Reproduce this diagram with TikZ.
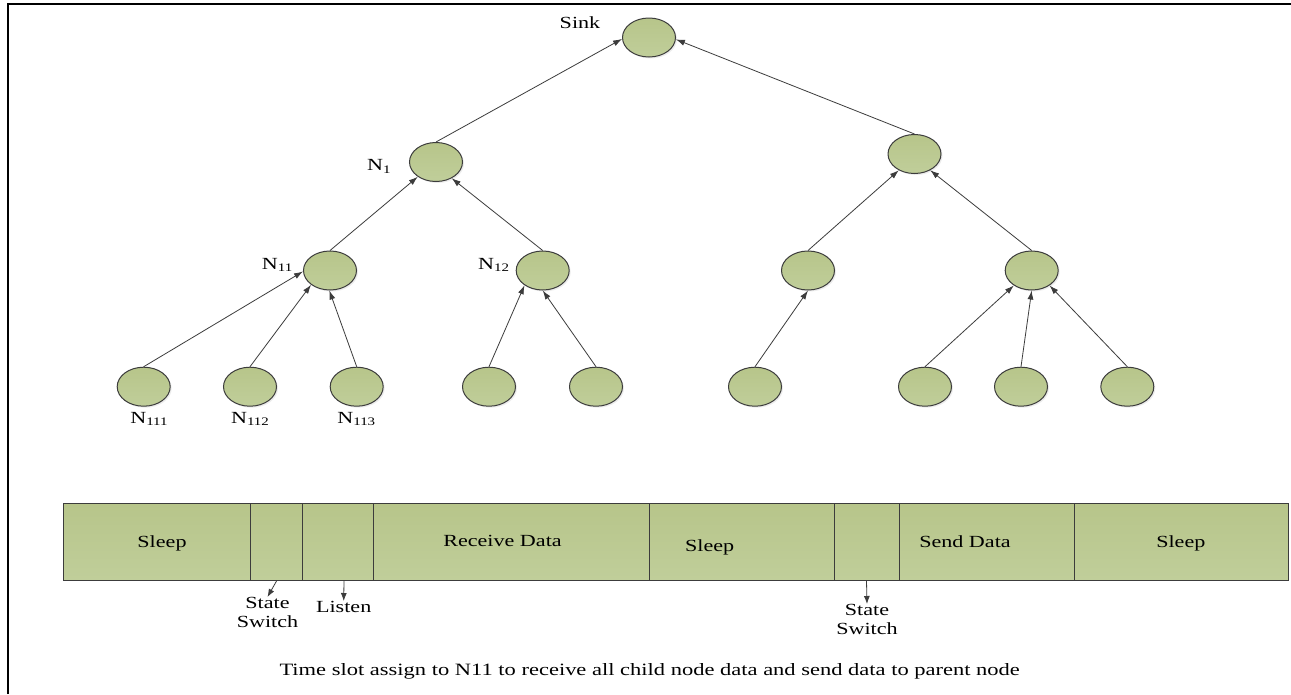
\documentclass[tikz,border=0pt]{standalone}
\usepackage{fontspec}
\setmainfont{Liberation Serif}[FakeStretch=1.3]
\usetikzlibrary{shapes.geometric,arrows.meta,shadows}
\definecolor{ngreen}{RGB}{183,197,138}
\definecolor{ngreenb}{RGB}{192,206,154}
\definecolor{edgec}{RGB}{60,60,60}
\newcommand{\Nlab}[1]{N\raisebox{-2.5pt}{\fontsize{11.5}{11.5}\selectfont #1}}
\begin{document}
\begin{tikzpicture}[x=1pt,y=-1pt,
  tnode/.style={ellipse, draw=edgec, line width=1pt, minimum width=53pt, minimum height=39pt, inner sep=0pt,
    top color=ngreen, bottom color=ngreenb,
    drop shadow={shadow xshift=1.5pt,shadow yshift=-1.5pt,opacity=0.15}},
  edge/.style={draw=edgec, line width=0.8pt, -{Latex[length=9pt,width=6pt]}},
  sarrow/.style={draw=edgec, line width=0.8pt, -{Latex[length=8pt,width=6pt]}},
  seg/.style={rectangle, draw=edgec, line width=1pt, minimum height=76.7pt, inner sep=0pt,
    top color=ngreen, bottom color=ngreenb},
  txt/.style={font=\fontsize{17}{18.7}\selectfont, inner sep=0pt, align=center, text=black},
]
\useasboundingbox (0,0) rectangle (1291,694);
\fill[white] (0,0) rectangle (1291,694);
% frame
\draw[line width=2pt] (7.7,694) -- (7.7,4) -- (1291,4);

% tree nodes
\node[tnode] (sink) at (649,37.5) {};
\node[tnode] (n1) at (436,162) {};
\node[tnode] (r1) at (914.5,154) {};
\node[tnode] (n11) at (330,270.5) {};
\node[tnode] (n12) at (542.7,270.5) {};
\node[tnode] (r11) at (808,270.5) {};
\node[tnode] (r12) at (1031.7,270.5) {};
\node[tnode] (n111) at (143.7,386.7) {};
\node[tnode] (n112) at (250,386.7) {};
\node[tnode] (n113) at (356.7,386.7) {};
\node[tnode] (n121) at (489,386.7) {};
\node[tnode] (n122) at (596,386.7) {};
\node[tnode] (r111) at (755,386.7) {};
\node[tnode] (r121) at (925,386.7) {};
\node[tnode] (r122) at (1021,386.7) {};
\node[tnode] (r123) at (1127.3,386.7) {};

% edges
\draw[edge] (n1.north) -- (sink.183);
\draw[edge] (r1.north) -- (sink.356);
\draw[edge] (n11.north) -- (n1.219);
\draw[edge] (n12.north) -- (n1.314);
\draw[edge] (r11.north) -- (r1.226);
\draw[edge] (r12.north) -- (r1.314);
\draw[edge] (n111.north) -- (n11.182);
\draw[edge] (n112.north) -- (n11.217);
\draw[edge] (n113.north) -- (n11.268);
\draw[edge] (n121.north) -- (n12.219);
\draw[edge] (n122.north) -- (n12.270);
\draw[edge] (r111.north) -- (r11.270);
\draw[edge] (r121.north) -- (r12.220);
\draw[edge] (r122.north) -- (r12.270);
\draw[edge] (r123.north) -- (r12.320);

% tree labels
\node[txt, anchor=base] (lsink) at (580,28.3) {Sink};
\node[txt, anchor=base west] (ln1) at (367,170.7) {\Nlab{1}};
\node[txt, anchor=base west] (ln11) at (261.7,269.3) {\Nlab{11}};
\node[txt, anchor=base west] (ln12) at (478,269.3) {\Nlab{12}};
\node[txt, anchor=base] (ln111) at (149,423.3) {\Nlab{111}};
\node[txt, anchor=base] (ln112) at (250,423.3) {\Nlab{112}};
\node[txt, anchor=base] (ln113) at (356.3,423.3) {\Nlab{113}};

% time slot bar
\node[seg, minimum width=187.4pt] (s1) at (157,541.65) {};
\node[seg, minimum width=52pt] (s2) at (276.7,541.65) {};
\node[seg, minimum width=70.6pt] (s3) at (338,541.65) {};
\node[seg, minimum width=275.7pt] (s4) at (511.15,541.65) {};
\node[seg, minimum width=185pt] (s5) at (741.5,541.65) {};
\node[seg, minimum width=65pt] (s6) at (866.5,541.65) {};
\node[seg, minimum width=175pt] (s7) at (986.5,541.65) {};
\node[seg, minimum width=214pt] (s8) at (1181,541.65) {};

\node[txt, anchor=base] (t1) at (162,547.3) {Sleep};
\node[txt, anchor=base] (t4) at (502.5,546.7) {Receive Data};
\node[txt, anchor=base] (t5) at (709.7,551.5) {Sleep};
\node[txt, anchor=base] (t7) at (965,547) {Send Data};
\node[txt, anchor=base] (t8) at (1180.8,547.5) {Sleep};

% annotations below bar
\coordinate (a1) at (276.7,580.7);
\coordinate (a2) at (344,580.7);
\coordinate (a3) at (866.5,580.7);
\node[txt, anchor=north] (ss1) at (267.5,597) {State\\Switch};
\node[txt, anchor=north] (lis) at (343.7,601) {Listen};
\node[txt, anchor=north] (ss2) at (867,604) {State\\Switch};
\draw[sarrow] (a1) -- (ss1.north);
\draw[sarrow] (a2) -- (lis.north);
\draw[sarrow] (a3) -- (ss2.north);

% caption
\node[txt, anchor=base, font=\fontsize{17.3}{19}\selectfont] (cap) at (649.7,675) {Time slot assign to N11 to receive all child node data and send data to parent node};
\end{tikzpicture}
\end{document}
